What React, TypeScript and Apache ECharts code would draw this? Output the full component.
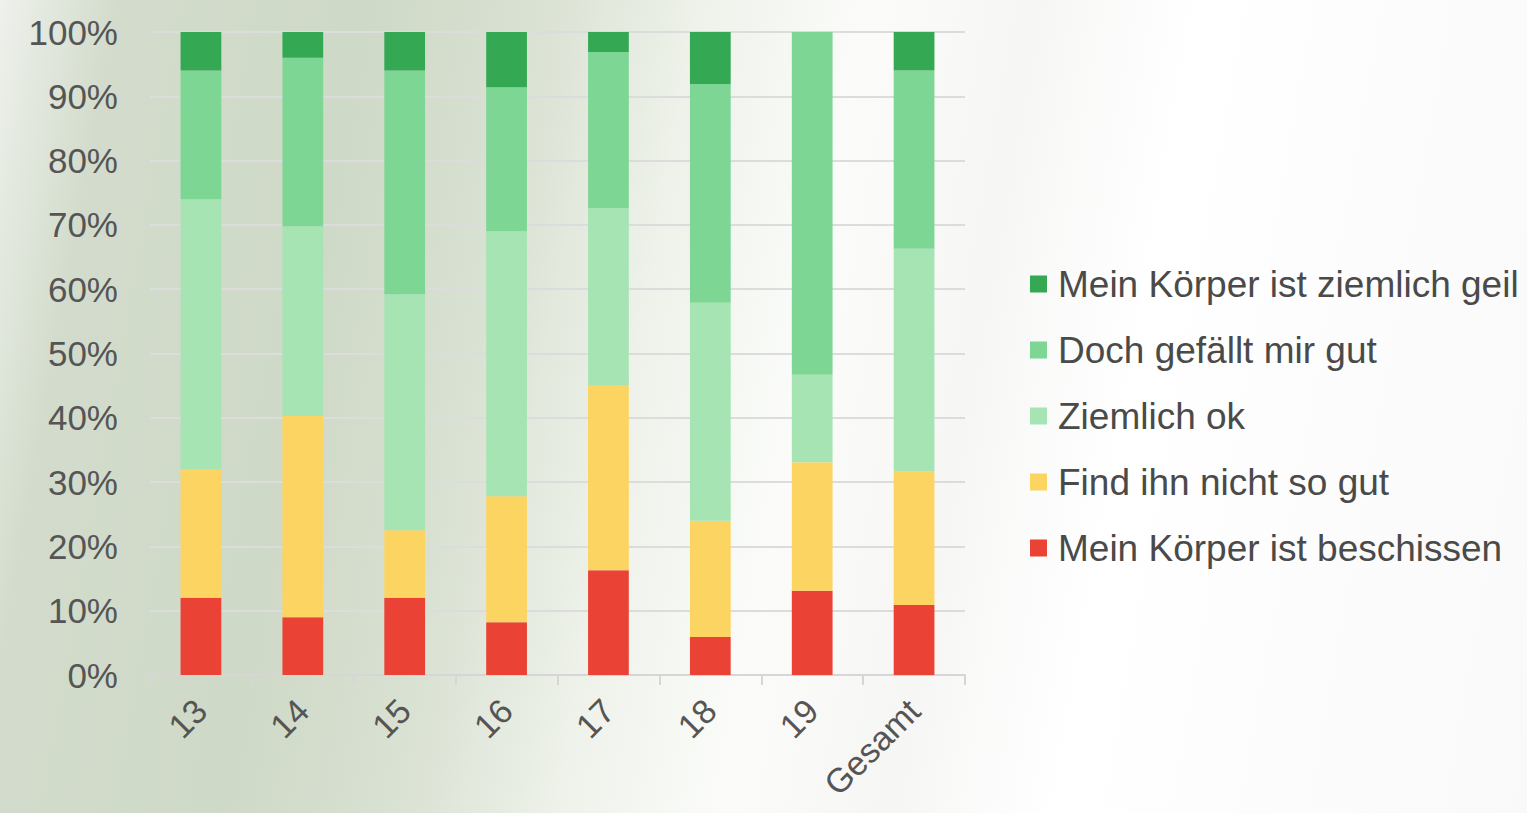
import React, { useEffect, useRef } from "react";
import * as echarts from "echarts";

const categories = ["13", "14", "15", "16", "17", "18", "19", "Gesamt"];
const seriesNames = [
  "Mein Körper ist beschissen",
  "Find ihn nicht so gut",
  "Ziemlich ok",
  "Doch gefällt mir gut",
  "Mein Körper ist ziemlich geil",
];
const beschissen = [12, 9, 12, 8.2, 16.3, 5.9, 13.1, 10.9];
const nichtSoGut = [20, 31.3, 10.5, 19.6, 28.7, 18.1, 20, 20.7];
const ziemlichOk = [42, 29.5, 36.7, 41.2, 27.6, 33.9, 13.6, 34.7];
const gefaelltGut = [20, 26.2, 34.8, 22.4, 24.3, 34, 53.3, 27.7];
const ziemlichGeil = [6, 4, 6, 8.6, 3.1, 8.1, 0, 6];
const yTicks = [0, 10, 20, 30, 40, 50, 60, 70, 80, 90, 100];

const colors = ["#ea4335", "#fcd462", "#a6e4b4", "#7dd694", "#34a853"];

export default function App() {
  const ref = useRef<HTMLDivElement>(null);
  useEffect(() => {
    if (!ref.current) return;
    const chart = echarts.init(ref.current, null, { renderer: "svg" });
    const values = [beschissen, nichtSoGut, ziemlichOk, gefaelltGut, ziemlichGeil];
    chart.setOption({
      animation: false,
      textStyle: { fontFamily: "Liberation Sans, Arial, sans-serif" },
      grid: { left: 150, right: 562, top: 32, bottom: 138, containLabel: false },
      legend: {
        orient: "vertical",
        left: 1030,
        top: 264,
        padding: 0,
        icon: "rect",
        itemWidth: 17,
        itemHeight: 17,
        itemGap: 26,
        data: seriesNames.slice().reverse(),
        textStyle: {
          fontSize: 37,
          color: "#4a4a4a",
          lineHeight: 40,
          padding: [0, 0, 0, 6],
        },
      },
      xAxis: {
        type: "category",
        data: categories,
        axisLine: { lineStyle: { color: "#d6d6d6", width: 2 } },
        axisTick: { show: true, length: 10, lineStyle: { color: "#d6d6d6", width: 2 } },
        axisLabel: { rotate: 45, fontSize: 34, color: "#555555", margin: 30, interval: 0 },
      },
      yAxis: {
        type: "value",
        min: yTicks[0],
        max: yTicks[yTicks.length - 1],
        interval: 10,
        axisLine: { show: false },
        axisTick: { show: false },
        splitLine: { lineStyle: { color: "#dcdcdc", width: 2 } },
        axisLabel: {
          fontSize: 35,
          color: "#555555",
          margin: 32,
          formatter: (v: number) => v + "%",
        },
      },
      series: seriesNames.map((name, i) => ({
        name,
        type: "bar",
        stack: "total",
        barWidth: "40%",
        itemStyle: { color: colors[i] },
        data: values[i],
      })),
    });
    return () => chart.dispose();
  }, []);
  return (
    <div
      style={{
        position: "fixed",
        left: 0,
        top: 0,
        width: 1527,
        height: 813,
        background:
          "linear-gradient(100deg, #eef1ec 0%, #d3dccc 7%, #cfd9c7 22%, #d9e1d2 32%, #eef2ea 42%, #fbfcfa 52%, #f6f7f5 62%, #ffffff 72%, #f8f9f8 100%)",
      }}
    >
      <div ref={ref} style={{ width: 1527, height: 813 }} />
    </div>
  );
}
